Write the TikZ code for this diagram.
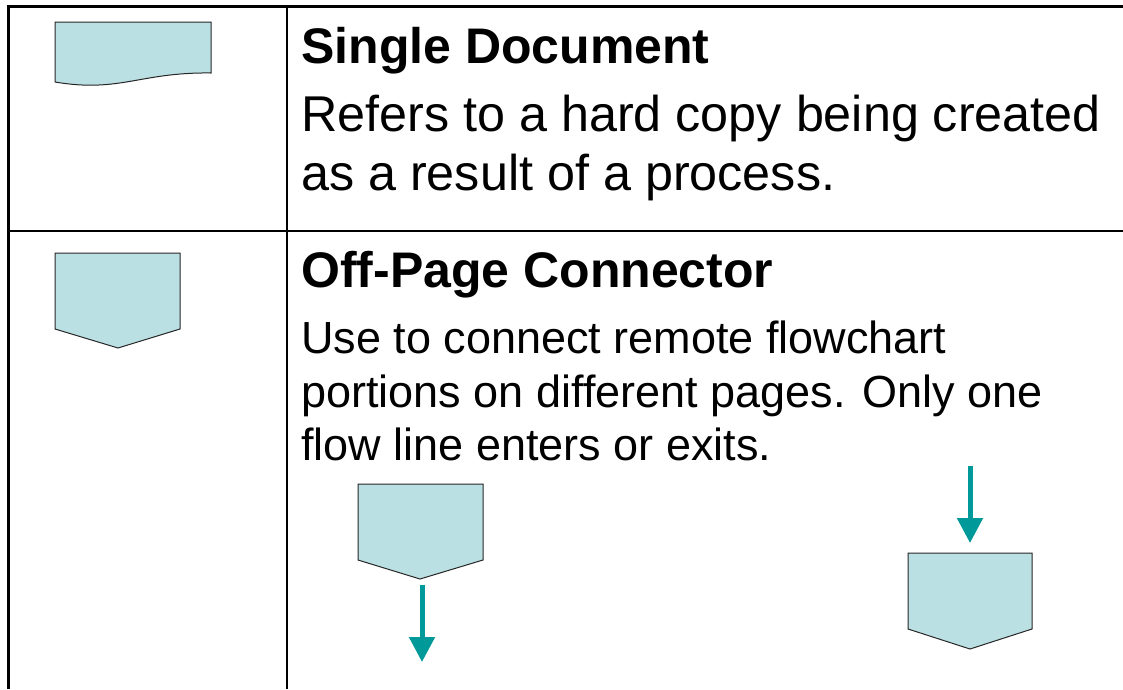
\documentclass[tikz,border=0pt]{standalone}
\usepackage{fontspec}
\setmainfont{Liberation Sans}
\usetikzlibrary{arrows.meta}
\definecolor{shapefill}{HTML}{BBE0E3}
\definecolor{flowteal}{HTML}{009999}
\tikzset{
  frame/.style={draw=black},
  symbolshape/.style={fill=shapefill,draw=black!85,line width=1pt,line join=miter},
  heading/.style={anchor=base west,inner sep=0pt,font=\fontsize{50}{60}\selectfont\bfseries},
  bodyA/.style={anchor=base west,inner sep=0pt,font=\fontsize{50.3}{59}\selectfont},
  bodyB/.style={anchor=base west,inner sep=0pt,font=\fontsize{45}{54}\selectfont},
  flowarrow/.style={draw=flowteal,line width=5pt,-{Triangle[width=25pt,length=25pt]}}
}
\begin{document}
\begin{tikzpicture}[x=1pt,y=-1pt]
\useasboundingbox (0,0) rectangle (1123,689);
% table frame
\draw[frame,line width=3pt] (8,689) -- (8,6) -- (1123,6);
\draw[frame,line width=2pt] (8,231) -- (1123,231);
\draw[frame,line width=1.5pt] (287,6) -- (287,689);
% single document symbol
\path[symbolshape] (55,22) -- (211,22) -- (211,73)
  .. controls (140,72) and (120,93) .. (55,82) -- cycle;
% off-page connector symbol
\path[symbolshape] (55,253) -- (180,253) -- (180,329) -- (118,348) -- (55,329) -- cycle;
% example connectors
\path[symbolshape] (358,484) -- (483,484) -- (483,560) -- (420,579) -- (358,560) -- cycle;
\coordinate (c2tip) at (422,585);
\coordinate (c2end) at (422,662);
\path[symbolshape] (908,553) -- (1032,553) -- (1032,629) -- (970,649) -- (908,629) -- cycle;
\coordinate (c3start) at (970,466);
\coordinate (c3top) at (970,543);
\draw[flowarrow] (c2tip) -- (c2end);
\draw[flowarrow] (c3start) -- (c3top);
% texts
\node[heading] (h1) at (301,63) {Single Document};
\node[bodyA] (t1a) at (301,131) {Refers to a hard copy being created};
\node[bodyA] (t1b) at (301,190) {as a result of a process.};
\node[heading] (h2) at (301,287) {Off-Page Connector};
\node[bodyB] (t2a) at (301,353) {Use to connect remote flowchart};
\node[bodyB] (t2b) at (301,407) {portions on different pages. Only one};
\node[bodyB] (t2c) at (301,460) {flow line enters or exits.};
\end{tikzpicture}
\end{document}
